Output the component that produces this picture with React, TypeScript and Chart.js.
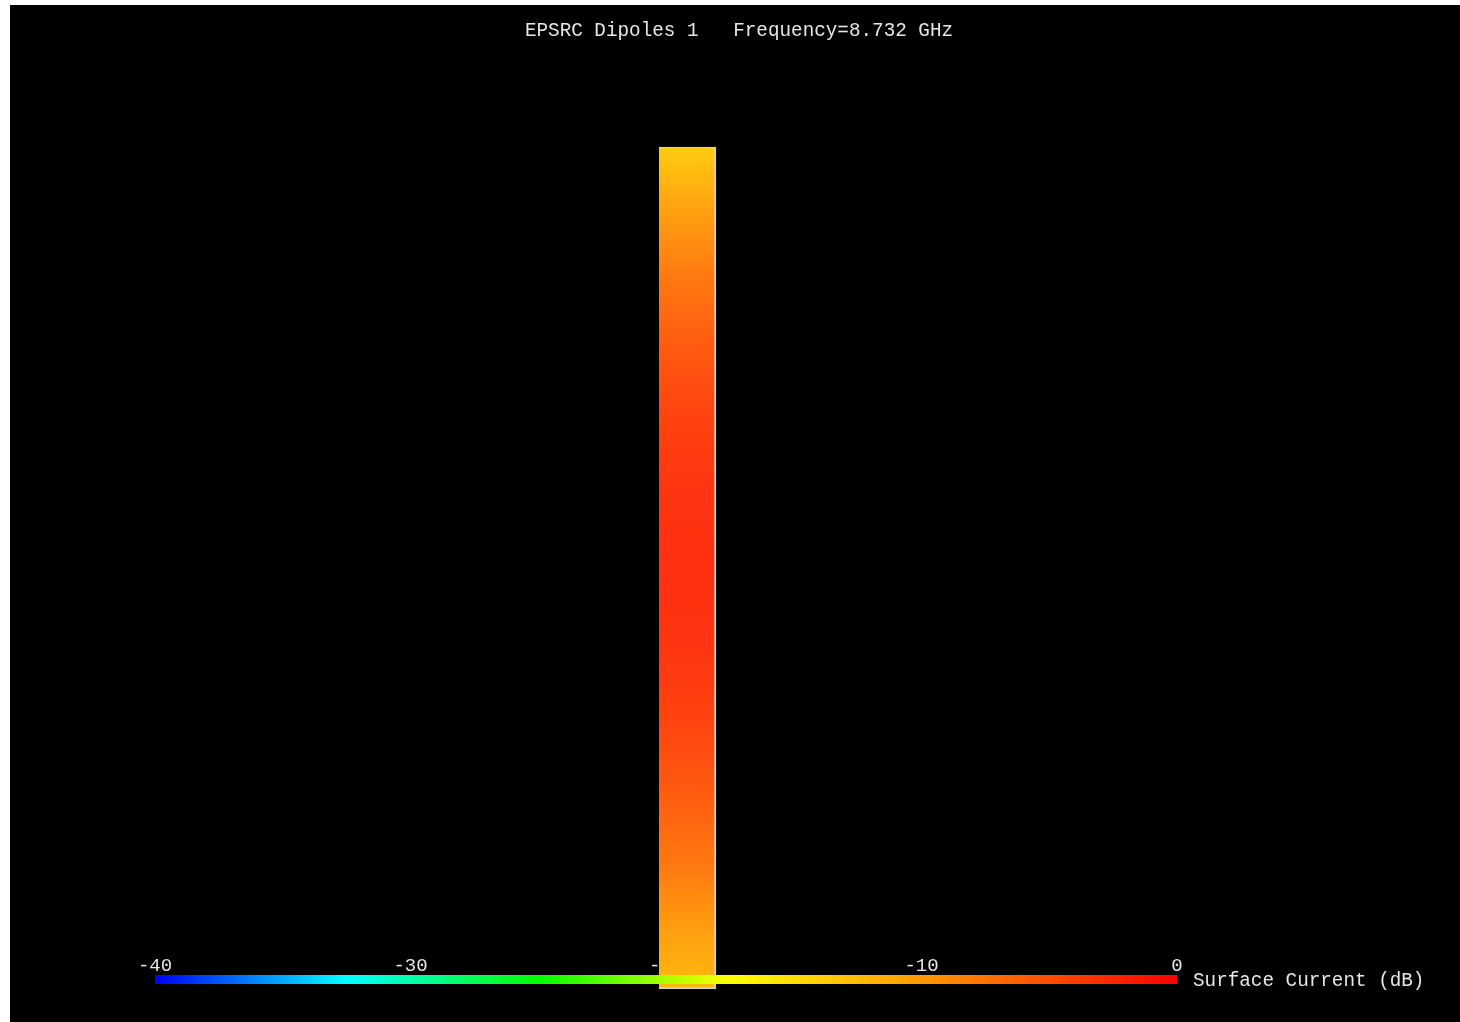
import React, { useEffect, useRef } from 'react';
import { Chart, registerables } from 'chart.js';

Chart.register(...registerables);

// ---- data ----
const titleText = 'EPSRC Dipoles 1   Frequency=8.732 GHz';
const colorbarLabel = 'Surface Current (dB)';
const colorbarTicks = [-40, -30, -20, -10, 0];
const colormapValues = [-40, -32.5, -25, -17.5, -10, 0];
const colormapColors = ['#0000ff', '#00ffff', '#00ff00', '#ffff00', '#ff9900', '#ff0000'];
const dipoleCenterX = [0.42]; // mm
const dipoleEnds = [[-8.6, 8.6]]; // mm along the dipole
const currentPositions = [-8.6, -7.5, -6, -4.5, -3, -1.5, 0, 1.5, 3, 4.5, 6, 7.5, 8.6];
const currentDb = [-12.3, -10.6, -7.8, -5.8, -4.3, -3.4, -3.1, -3.4, -4.3, -5.9, -8.0, -11.0, -13.8];

const FONT = '"Liberation Mono", "Courier New", monospace';
const TEXT_COLOR = '#e6e6e6';

function hexToRgb(h: string) {
  const n = parseInt(h.slice(1), 16);
  return [(n >> 16) & 255, (n >> 8) & 255, n & 255];
}

function colormap(v: number): string {
  if (v <= colormapValues[0]) return colormapColors[0];
  for (let i = 1; i < colormapValues.length; i++) {
    if (v <= colormapValues[i]) {
      const t = (v - colormapValues[i - 1]) / (colormapValues[i] - colormapValues[i - 1]);
      const a = hexToRgb(colormapColors[i - 1]);
      const b = hexToRgb(colormapColors[i]);
      const c = a.map((x, k) => Math.round(x + (b[k] - x) * t));
      return `rgb(${c[0]},${c[1]},${Math.max(c[2], 16)})`;
    }
  }
  return colormapColors[colormapColors.length - 1];
}

const overlayPlugin = {
  id: 'overlay',
  afterDatasetsDraw(chart: any) {
    const ctx = chart.ctx as CanvasRenderingContext2D;
    const xs = chart.scales.x;
    const left = xs.getPixelForValue(colorbarTicks[0]);
    const right = xs.getPixelForValue(colorbarTicks[colorbarTicks.length - 1]);
    const top = xs.bottom - 2;
    const h = 9;
    const g = ctx.createLinearGradient(left, 0, right, 0);
    colormapValues.forEach((v, i) => {
      g.addColorStop((xs.getPixelForValue(v) - left) / (right - left), colormapColors[i]);
    });
    ctx.save();
    ctx.fillStyle = g;
    ctx.fillRect(left, top, right - left, h);
    ctx.fillStyle = TEXT_COLOR;
    ctx.font = `19.3px ${FONT}`;
    ctx.textBaseline = 'middle';
    ctx.textAlign = 'left';
    ctx.fillText(colorbarLabel, right + 16, top + h / 2 + 1);
    ctx.textAlign = 'center';
    ctx.fillText(titleText, chart.width / 2 + 4, 26);
    ctx.restore();
  },
};

export default function App() {
  const ref = useRef<HTMLCanvasElement>(null);
  useEffect(() => {
    document.body.style.margin = '0';
    const canvas = ref.current!;
    const chart = new Chart(canvas, {
      type: 'bar',
      data: {
        datasets: [
          {
            label: 'Dipole',
            data: [{ x: dipoleCenterX[0], y: dipoleEnds[0] }] as any,
            xAxisID: 'xPos',
            yAxisID: 'y',
            barThickness: 57,
            borderColor: '#d0d0d0',
            borderWidth: { top: 1, right: 2, bottom: 2, left: 0 },
            borderSkipped: false,
            clip: false as any,
            backgroundColor: (c: any) => {
              const ch = c.chart;
              const ys = ch.scales.y;
              if (!ys || !ch.chartArea) return colormap(currentDb[6]);
              const bottom = ys.getPixelForValue(currentPositions[0]);
              const top = ys.getPixelForValue(currentPositions[currentPositions.length - 1]);
              const g = ch.ctx.createLinearGradient(0, bottom, 0, top);
              currentPositions.forEach((p, i) => {
                const t = (ys.getPixelForValue(p) - bottom) / (top - bottom);
                g.addColorStop(Math.min(1, Math.max(0, t)), colormap(currentDb[i]));
              });
              return g;
            },
          },
        ],
      },
      options: {
        animation: false,
        responsive: false,
        devicePixelRatio: 1,
        layout: { padding: { top: 142, bottom: 45, left: 145, right: 283 } },
        plugins: {
          legend: { display: false },
          tooltip: { enabled: false },
          title: { display: false },
        },
        scales: {
          x: {
            type: 'linear',
            position: 'bottom',
            offset: false,
            min: colorbarTicks[0],
            max: colorbarTicks[colorbarTicks.length - 1],
            afterBuildTicks: (s: any) => {
              s.ticks = colorbarTicks.map((v) => ({ value: v }));
            },
            ticks: {
              color: TEXT_COLOR,
              font: { family: FONT, size: 19 },
              padding: 0,
              maxRotation: 0,
              autoSkip: false,
            },
            grid: { display: false, drawTicks: false, offset: false },
            border: { display: false },
          },
          xPos: { type: 'linear', display: false, offset: false, grid: { offset: false }, min: -10, max: 10 },
          y: { type: 'linear', display: false, min: -7.89, max: 8.6 },
        },
      } as any,
      plugins: [overlayPlugin],
    });
    return () => chart.destroy();
  }, []);
  return (
    <div style={{ position: 'absolute', left: 10, top: 5, width: 1450, height: 1017 }}>
      <canvas ref={ref} width={1450} height={1017} style={{ display: 'block', background: '#000' }} />
    </div>
  );
}
